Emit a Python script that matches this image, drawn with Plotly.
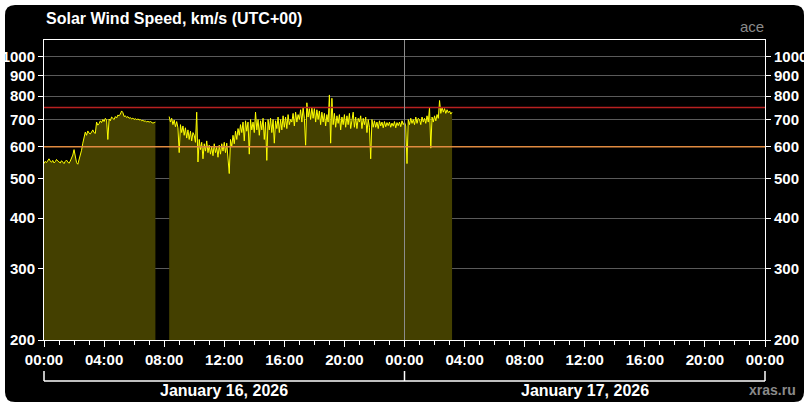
import math
import pandas as pd
import plotly.graph_objects as go

# solar wind speed, km/s, 5 min steps
seg1_start = "2026-01-16 00:00"
seg1_speed = [
    545, 552, 548, 556, 560, 553, 549, 555, 547, 551, 558, 553,
    550, 547, 554, 549, 545, 552, 556, 550, 546, 553, 560, 572,
    590, 566, 548, 543, 556, 575, 588, 612, 630, 652, 640, 656,
    648, 645, 652, 660, 650, 647, 690, 678, 684, 695, 688, 700,
    692, 705, 698, 625, 702, 695, 710, 704, 700, 712, 706, 718,
    715, 722, 735, 728, 712, 715, 708, 712, 705, 708, 702, 706,
    700, 704, 698, 703, 698, 700, 695, 697, 693, 695, 690, 693,
    690, 692, 688, 686, 688, 690,
]
seg2_start = "2026-01-16 08:20"
seg2_speed = [
    712, 690, 705, 680, 698, 672, 692, 668,
    580, 680, 650, 675, 640, 668, 630, 660, 625, 655, 620, 650,
    640, 615, 730, 550, 625, 590, 615, 560, 610, 585, 620, 580,
    605, 575, 600, 570, 610, 580, 598, 565, 605, 575, 610, 585,
    615, 580, 612, 560, 515, 625, 600, 640, 610, 655, 625, 665,
    640, 680, 650, 690, 620, 695, 655, 690, 575, 700, 660, 690,
    650, 730, 660, 700, 640, 695, 660, 705, 625, 690, 555, 700,
    660, 705, 650, 700, 612, 695, 665, 710, 650, 700, 660, 715,
    670, 710, 665, 720, 680, 700, 690, 725, 675, 730, 690, 720,
    700, 740, 690, 750, 705, 605, 770, 710, 745, 700, 750, 705,
    745, 690, 740, 700, 735, 680, 730, 690, 725, 675, 720, 690,
    805, 612, 790, 680, 725, 670, 715, 685, 720, 660, 710, 680,
    720, 670, 715, 680, 725, 665, 700, 730, 670, 710, 665, 705,
    690, 715, 665, 705, 680, 710, 650, 700, 670, 560, 700, 670,
    695, 670, 690, 665, 695, 675, 690, 668, 692, 672, 688, 676,
    690, 670, 686, 674, 692, 668, 688, 676, 690, 672, 695, 680,
    690, 675, 545, 700, 680, 705, 685, 700, 680, 710, 685, 705,
    700, 680, 710, 690, 705, 685, 715, 690, 750, 595, 710, 690,
    715, 695, 720, 705, 780, 725, 750, 730, 745, 725, 740, 728,
    735, 722, 730,
]
y_ticks = [200, 300, 400, 500, 600, 700, 800, 900, 1000]
y_range = [200, 1100]
level_high = 750
level_low = 600
x_start = "2026-01-16 00:00"
x_mid = "2026-01-17 00:00"
x_end = "2026-01-18 00:00"
day_labels = ["January 16, 2026", "January 17, 2026"]
day_centers = ["2026-01-16 12:00", "2026-01-17 12:00"]

W, H = 810, 410
L, R, T, B = 44, 45, 40, 70
PW, PH = W - L - R, H - T - B


def px(x):
    return (x - L) / PW


def py(y):
    return (H - B - y) / PH


FONT = "Liberation Sans, Arial, sans-serif"
t1 = pd.date_range(seg1_start, periods=len(seg1_speed), freq="5min")
t2 = pd.date_range(seg2_start, periods=len(seg2_speed), freq="5min")

fig = go.Figure()
for tt, vv in [(t1, seg1_speed), (t2, seg2_speed)]:
    fig.add_trace(go.Scatter(x=tt, y=vv, mode="lines", fill="tozeroy",
                             fillcolor="#444000", line=dict(color="#ffff00", width=1),
                             hoverinfo="skip", showlegend=False))
# carrier for the right-hand axis
fig.add_trace(go.Scatter(x=[x_start], y=[500], yaxis="y2", mode="lines",
                         line=dict(width=0), hoverinfo="skip", showlegend=False))

# rounded black panel
x0, x1, y0, y1 = px(5), px(804), py(402), py(5)
rx, ry = 10 / PW, 10 / PH
panel = (f"M{x0+rx},{y0} L{x1-rx},{y0} Q{x1},{y0} {x1},{y0+ry} "
         f"L{x1},{y1-ry} Q{x1},{y1} {x1-rx},{y1} L{x0+rx},{y1} "
         f"Q{x0},{y1} {x0},{y1-ry} L{x0},{y0+ry} Q{x0},{y0} {x0+rx},{y0} Z")
shapes = [dict(type="path", path=panel, xref="paper", yref="paper",
               fillcolor="black", line=dict(width=0), layer="below")]
shapes += [
    dict(type="line", xref="paper", yref="y", x0=0, x1=1, y0=level_high, y1=level_high,
         line=dict(color="#b82020", width=1.5)),
    dict(type="line", xref="paper", yref="y", x0=0, x1=1, y0=level_low, y1=level_low,
         line=dict(color="#e08a40", width=1.5)),
    dict(type="line", xref="x", yref="paper", x0=x_mid, x1=x_mid, y0=0, y1=1,
         line=dict(color="#8c8c8c", width=1)),
]
# day brackets under the time axis
yb, yt = py(381), py(371)
for xa in [0, 0.5, 1]:
    shapes.append(dict(type="line", xref="paper", yref="paper", x0=xa, x1=xa,
                       y0=yb, y1=yt, line=dict(color="white", width=1.5)))
shapes.append(dict(type="line", xref="paper", yref="paper", x0=0, x1=1,
                   y0=yb, y1=yb, line=dict(color="white", width=1.5)))

annotations = [
    dict(text="Solar Wind Speed, km/s (UTC+00)", xref="paper", yref="paper",
         x=px(44), y=py(19), xanchor="left", yanchor="middle", showarrow=False,
         font=dict(family=FONT, size=16, color="white", weight="bold")),
    dict(text="ace", xref="paper", yref="paper", x=px(766), y=py(26),
         xanchor="right", yanchor="middle", showarrow=False,
         font=dict(family=FONT, size=15, color="#8a8a8a")),
    dict(text="xras.ru", xref="paper", yref="paper", x=px(798), y=py(390),
         xanchor="right", yanchor="middle", showarrow=False,
         font=dict(family=FONT, size=14, color="#8a8a8a", weight="bold")),
]
for lab, xc in zip(day_labels, day_centers):
    annotations.append(dict(text=lab, xref="x", yref="paper", x=xc, y=py(390),
                            xanchor="center", yanchor="middle", showarrow=False,
                            font=dict(family=FONT, size=16, color="white", weight="bold")))

tickfont = dict(family=FONT, size=15, color="white", weight="bold")
ylog = [math.log10(y_range[0]), math.log10(y_range[1])]

fig.update_layout(
    template="none",
    width=W, height=H, margin=dict(l=L, r=R, t=T, b=B, autoexpand=False),
    paper_bgcolor="white", plot_bgcolor="black",
    shapes=shapes, annotations=annotations,
    xaxis=dict(type="date", range=[x_start, x_end], tickformat="%H:%M",
               dtick=4 * 3600000, tick0=x_start, ticks="outside", ticklen=6,
               tickcolor="white", tickwidth=1, tickfont=tickfont,
               minor=dict(dtick=3600000, ticks="outside", ticklen=4,
                          tickcolor="white", showgrid=False),
               showgrid=False, showline=True, linecolor="white", linewidth=1,
               mirror=True, zeroline=False, automargin=False),
    yaxis=dict(type="log", range=ylog, tickvals=y_ticks, ticktext=[str(v) for v in y_ticks],
               ticks="outside", ticklen=5, tickcolor="white", tickfont=tickfont,
               showgrid=True, gridcolor="#5a5a5a", gridwidth=1,
               showline=True, linecolor="white", linewidth=1, mirror=True,
               zeroline=False, automargin=False),
    yaxis2=dict(type="log", range=ylog, tickvals=y_ticks, ticktext=[str(v) for v in y_ticks],
                overlaying="y", side="right", ticks="outside", ticklen=5,
                tickcolor="white", tickfont=tickfont, showgrid=False,
                showline=False, zeroline=False, automargin=False),
)

# page body has a default 8px margin; drop it so the figure sits at 0,0
fig.write_html("out.html", config={"displayModeBar": False},
               post_script="document.body.style.margin='0px';")
